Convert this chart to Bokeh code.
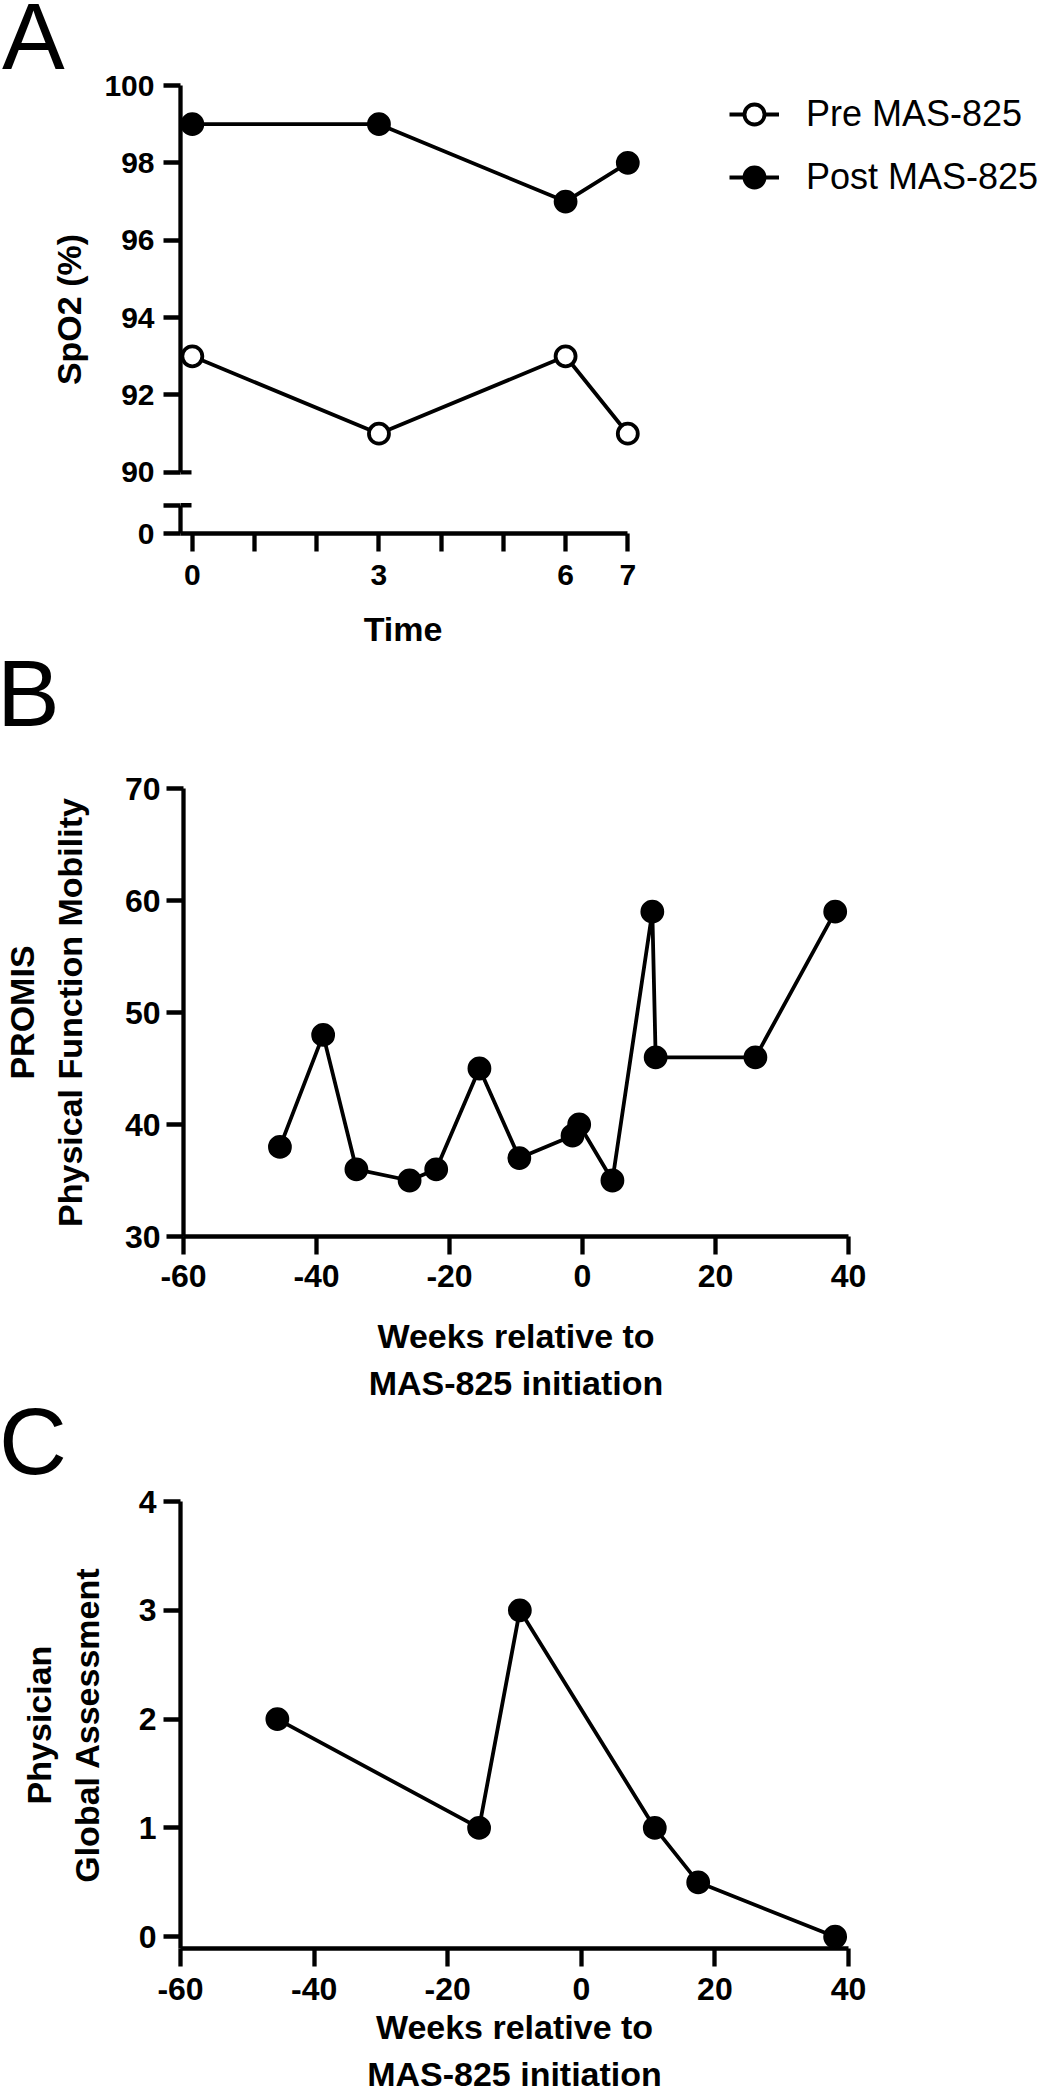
from bokeh.plotting import figure
from bokeh.models import Range1d, LinearAxis, FixedTicker, Legend, LegendItem, Div
from bokeh.embed import file_html
from bokeh.resources import INLINE

# ---------------- data ----------------
TIME = [0, 3, 6, 7]
PRE_SPO2 = [93, 91, 93, 91]
POST_SPO2 = [99, 99, 97, 98]
TIME_TICKS = [0, 1, 2, 3, 4, 5, 6, 7]
TIME_TICK_LABELS = ["0", "", "", "3", "", "", "6", "7"]
SPO2_TICKS = [90, 92, 94, 96, 98, 100]
SPO2_TICK_LABELS = ["90", "92", "94", "96", "98", "100"]
SPO2_BREAK_LABELS = ["0", ""]          # labels of the axis segment below the break

WEEKS_B = [-45.5, -39, -34, -26, -22, -15.5, -9.5, -1.5, -0.5, 4.5, 10.5, 11, 26, 38]
PROMIS = [38, 48, 36, 35, 36, 45, 37, 39, 40, 35, 59, 46, 46, 59]
PROMIS_TICKS = [30, 40, 50, 60, 70]
WEEK_TICKS = [-60, -40, -20, 0, 20, 40]
WEEK_TICK_LABELS = ["-60", "-40", "-20", "0", "20", "40"]

WEEKS_C = [-45.5, -15.3, -9.2, 11, 17.5, 38]
PGA = [2, 1, 3, 1, 0.5, 0]
PGA_TICKS = [0, 1, 2, 3, 4]

# ---------------- style ----------------
FONT = "Liberation Sans"
W = 1041
LW = 3.8
AXW = 4.3
MS = 20
LEFT = 180


def style_axis(ax, tick_out=17, label_standoff=8, title_standoff=14, label_size="30px"):
    ax.axis_line_width = AXW
    ax.axis_line_color = "black"
    ax.major_tick_line_width = AXW
    ax.major_tick_line_color = "black"
    ax.major_tick_out = tick_out
    ax.major_tick_in = 0
    ax.minor_tick_line_color = None
    ax.major_label_text_font = FONT
    ax.major_label_text_font_size = label_size
    ax.major_label_text_font_style = "bold"
    ax.major_label_text_color = "black"
    ax.major_label_standoff = label_standoff
    ax.axis_label_text_font = FONT
    ax.axis_label_text_font_size = "34px"
    ax.axis_label_text_font_style = "bold"
    ax.axis_label_text_color = "black"
    ax.axis_label_text_line_height = 1.25
    ax.axis_label_standoff = title_standoff


def base(p):
    p.outline_line_color = None
    p.background_fill_color = "white"
    p.border_fill_color = "white"
    p.grid.visible = False


def text_div(txt, left, top, width, size, weight="normal", align="left"):
    return Div(text=txt, width=width, height=int(size * 1.3), margin=0,
               styles={"position": "absolute", "left": f"{left}px", "top": f"{top}px",
                       "font-family": FONT, "font-size": f"{size}px",
                       "line-height": f"{size}px", "font-weight": weight,
                       "text-align": align, "color": "black", "white-space": "nowrap"})


# ---------------- panel A ----------------
X0_A = -0.19            # small margin left of t=0 so the markers are not clipped
Y_BOTTOM_A = 88.42      # position of the "0" of the broken axis
BREAK_TOP_A = 89.15     # top of the lower axis segment
CAP_A = 0.177
A_RIGHT = 13.65         # frame continues to the right to hold the legend

pa = figure(width=W, height=658, output_backend="svg", toolbar_location=None,
            x_range=Range1d(X0_A, A_RIGHT), y_range=Range1d(Y_BOTTOM_A, 100),
            x_axis_location=None, y_axis_location=None,
            min_border_left=LEFT, min_border_right=0,
            min_border_top=85, min_border_bottom=125)
base(pa)

xa = LinearAxis(ticker=FixedTicker(ticks=TIME_TICKS), bounds=(X0_A, 7),
                major_label_overrides=dict(zip(TIME_TICKS, TIME_TICK_LABELS)))
style_axis(xa, tick_out=18, label_standoff=13)
pa.add_layout(xa, "below")

ya_ticks = [Y_BOTTOM_A, BREAK_TOP_A] + SPO2_TICKS
ya_labels = SPO2_BREAK_LABELS + SPO2_TICK_LABELS
ya = LinearAxis(ticker=FixedTicker(ticks=ya_ticks), bounds=(Y_BOTTOM_A, 100),
                axis_label="SpO2 (%)",
                major_label_overrides=dict(zip(ya_ticks, ya_labels)))
style_axis(ya, tick_out=17, label_standoff=9, title_standoff=13)
# axis break: solid (lower segment) / gap / solid (upper segment), drawn from the bottom up
ya.axis_line_dash = "28 33 400 100"
pa.add_layout(ya, "left")

# inner halves of the break caps
pa.segment(x0=[X0_A, X0_A], x1=[X0_A + CAP_A, X0_A + CAP_A],
           y0=[SPO2_TICKS[0], BREAK_TOP_A], y1=[SPO2_TICKS[0], BREAK_TOP_A],
           line_width=AXW, color="black")

l_pre = pa.line(TIME, PRE_SPO2, line_width=LW, color="black")
s_pre = pa.scatter(TIME, PRE_SPO2, size=MS, fill_color="white", line_color="black", line_width=LW)
l_post = pa.line(TIME, POST_SPO2, line_width=LW, color="black")
s_post = pa.scatter(TIME, POST_SPO2, size=MS, fill_color="black", line_color="black", line_width=LW)

leg = Legend(items=[LegendItem(label="Pre MAS-825", renderers=[l_pre, s_pre]),
                    LegendItem(label="Post MAS-825", renderers=[l_post, s_post])],
             location=(549, 331), orientation="vertical",
             glyph_width=50, glyph_height=50, label_height=50, label_standoff=27,
             spacing=13, padding=0, margin=0,
             border_line_color=None, background_fill_color=None,
             label_text_font=FONT, label_text_font_size="36px", label_text_color="black")
pa.add_layout(leg)

# ---------------- panel B ----------------
pb = figure(width=W, height=752, output_backend="svg", toolbar_location=None,
            x_range=Range1d(-60, 40), y_range=Range1d(30, 70),
            min_border_left=LEFT, min_border_right=W - LEFT - 668,
            min_border_top=130, min_border_bottom=174)
base(pb)
pb.xaxis.ticker = FixedTicker(ticks=WEEK_TICKS)
pb.xaxis.major_label_overrides = dict(zip(WEEK_TICKS, WEEK_TICK_LABELS))
pb.yaxis.ticker = FixedTicker(ticks=PROMIS_TICKS)
pb.xaxis.axis_label = "Weeks relative to\nMAS-825 initiation"
pb.yaxis.axis_label = "PROMIS\nPhysical Function Mobility"
style_axis(pb.xaxis[0], tick_out=18, label_standoff=10, title_standoff=27, label_size="32px")
style_axis(pb.yaxis[0], tick_out=17, label_standoff=6, title_standoff=33, label_size="32px")
pb.line(WEEKS_B, PROMIS, line_width=LW, color="black")
pb.scatter(WEEKS_B, PROMIS, size=MS, fill_color="black", line_color="black", line_width=LW)

# ---------------- panel C ----------------
Y0_C = -0.108           # small margin below 0 so the markers are not clipped
pc = figure(width=W, height=690, output_backend="svg", toolbar_location=None,
            x_range=Range1d(-60, 40), y_range=Range1d(Y0_C, 4),
            min_border_left=LEFT, min_border_right=W - LEFT - 668,
            min_border_top=91, min_border_bottom=152)
base(pc)
pc.xaxis.ticker = FixedTicker(ticks=WEEK_TICKS)
pc.xaxis.major_label_overrides = dict(zip(WEEK_TICKS, WEEK_TICK_LABELS))
pc.xaxis.axis_label = "Weeks relative to\nMAS-825 initiation"
pc.yaxis.ticker = FixedTicker(ticks=PGA_TICKS)
pc.yaxis.bounds = (Y0_C, 4)
pc.yaxis.axis_label = "Physician\nGlobal Assessment"
style_axis(pc.xaxis[0], tick_out=18, label_standoff=11, title_standoff=5, label_size="32px")
style_axis(pc.yaxis[0], tick_out=17, label_standoff=7, title_standoff=30, label_size="32px")
pc.line(WEEKS_C, PGA, line_width=LW, color="black")
pc.scatter(WEEKS_C, PGA, size=MS, fill_color="black", line_color="black", line_width=LW)

# ---------------- panel letters and the time-axis title ----------------
dA = text_div("A", 2, -10, 110, 94)
dB = text_div("B", -3, 647, 110, 94)
dC = text_div("C", -1, 1395, 110, 94)
dT = text_div("Time", 303, 612, 200, 34, weight="bold", align="center")

open("out.html", "w").write(file_html([pa, pb, pc, dA, dB, dC, dT], INLINE))
